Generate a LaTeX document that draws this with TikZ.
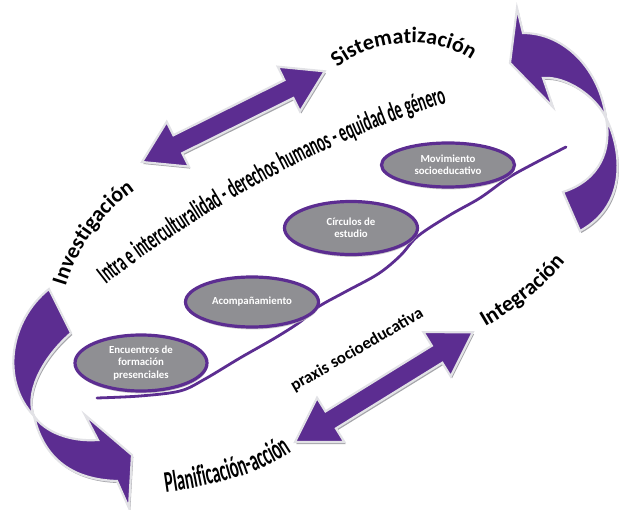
\documentclass[tikz,border=0pt]{standalone}
\usepackage{fontspec}
\setmainfont{Carlito}
\newfontfamily\condfont[FakeStretch=0.54]{Carlito}
\newfontfamily\midfont[FakeStretch=0.53]{Carlito}
\usetikzlibrary{decorations.text,shapes.geometric,shadows}

\definecolor{vio}{RGB}{92,45,145}
\definecolor{ellgray}{RGB}{143,143,147}
\definecolor{rim}{RGB}{226,226,230}
\definecolor{shade}{RGB}{165,165,170}

\newcommand\bigfnt{\fontsize{22}{24}\selectfont\bfseries}
\newcommand\plafnt{\condfont\fontsize{30}{32}\selectfont\bfseries}
\newcommand\intfnt{\midfont\fontsize{27}{29}\selectfont\bfseries}

% double arrow: x, y, angle, length, head length, half head width
\newcommand\dblarrow[6]{%
  \begin{scope}[shift={(#1+1.3,#2+2)}, rotate=#3]
    \fill[arrowshadow] (0,0) -- (#5,#6) -- (#5,10) -- (#4-#5,10) -- (#4-#5,#6) -- (#4,0)
      -- (#4-#5,-#6) -- (#4-#5,-10) -- (#5,-10) -- (#5,-#6) -- cycle;
  \end{scope}
  \begin{scope}[shift={(#1,#2)}, rotate=#3]
    \path[bigarrow] (0,0) -- (#5,#6) -- (#5,10) -- (#4-#5,10) -- (#4-#5,#6) -- (#4,0)
      -- (#4-#5,-#6) -- (#4-#5,-10) -- (#5,-10) -- (#5,-#6) -- cycle;
  \end{scope}}

\newcommand\trUp{(517,8) -- (510,63) -- (553,107) -- (543,78) .. controls (565,76) and (595,95) .. (606,118) .. controls (600,70) and (565,33) .. (523,33) -- cycle}
\newcommand\trLo{(606,118) .. controls (622,150) and (628,205) .. (580,231) -- (563,192) .. controls (600,180) and (612,150) .. (606,118) -- cycle}
\newcommand\blUp{(49,289) .. controls (10,320) and (0,380) .. (34,416) .. controls (25,395) and (40,360) .. (71,333) -- cycle}
\newcommand\blLo{(34,416) .. controls (45,432) and (70,442) .. (98,440) -- (85,415) -- (132,455) -- (129,508) -- (117,481) .. controls (80,480) and (45,465) .. (34,416) -- cycle}

\begin{document}
\begin{tikzpicture}[x=1pt,y=-1pt,
  bigarrow/.style={fill=vio, draw=rim, line width=2.2pt, line join=miter},
  arrowshadow/.style={fill=shade},
  ellbox/.style={ellipse, draw=vio, line width=3.2pt, fill=ellgray, text=white,
     font=\fontsize{10.8}{12.5}\selectfont\bfseries, align=center, inner sep=0pt,
     drop shadow={shadow xshift=0.6pt, shadow yshift=-2.4pt, fill=gray!50, opacity=0.8}},
  swoosh/.style={draw=vio, line width=2.8pt, line cap=round},
]
\useasboundingbox (0,0) rectangle (624,510);

% curved arrows
\fill[arrowshadow, shift={(1.3,2)}] \trUp;
\fill[arrowshadow, shift={(1.3,2)}] \trLo;
\fill[arrowshadow, shift={(1.3,2)}] \blUp;
\fill[arrowshadow, shift={(1.3,2)}] \blLo;
\path[bigarrow] \trLo;
\path[bigarrow] \trUp;
\path[bigarrow] \blUp;
\path[bigarrow] \blLo;

% double arrows
\dblarrow{142}{162}{26.4}{204}{40}{25}
\dblarrow{295}{442}{31.7}{209}{42}{26}

% swoosh line
\draw[swoosh] plot[smooth, tension=0.55] coordinates {(97,398) (140,396) (180,391) (205,379) (240,358) (275,338) (300,322) (318,307) (345,292) (378,274) (400,256) (418,236) (450,215) (480,198) (508,178) (535,163) (566,147)};

% ellipses
\node[ellbox, minimum width=132pt, minimum height=56pt] (e1) at (141,363) {Encuentros de\\formación\\presenciales};
\node[ellbox, minimum width=133pt, minimum height=50pt] (e2) at (252,302) {Acompañamiento};
\node[ellbox, minimum width=133pt, minimum height=53pt] (e3) at (351,228) {Círculos de\\estudio};
\node[ellbox, minimum width=133pt, minimum height=44pt] (e4) at (448,165) {Movimiento\\socioeducativo};

% curved labels
\path[decorate, decoration={text along path, text align=center,
  text={|\bigfnt|Sistematización}}]
  (335,70) .. controls (370,38) and (435,33) .. (474,62);
\path[decorate, decoration={text along path, text align=center,
  text={|\bigfnt|Investigación}}]
  (64,292) .. controls (76,245) and (110,205) .. (140,187);
\path[decorate, decoration={text along path, text align=center,
  text={|\bigfnt|Integración}}]
  (480,330) .. controls (510,313) and (543,290) .. (569,257);
\path[decorate, decoration={text along path, text align=center,
  text={|\plafnt|Planificación-acción}}]
  (168,492) .. controls (210,486) and (255,476) .. (290,453);
\path[decorate, decoration={text along path, text align=center,
  text={|\intfnt|Intra e interculturalidad - derechos humanos - equidad de género}}]
  (95,293) .. controls (190,216) and (330,136) .. (460,99);

\node[rotate=30, font=\fontsize{17}{19}\selectfont\bfseries, inner sep=0pt] (praxis) at (357,350) {praxis socioeducativa};
\end{tikzpicture}
\end{document}
